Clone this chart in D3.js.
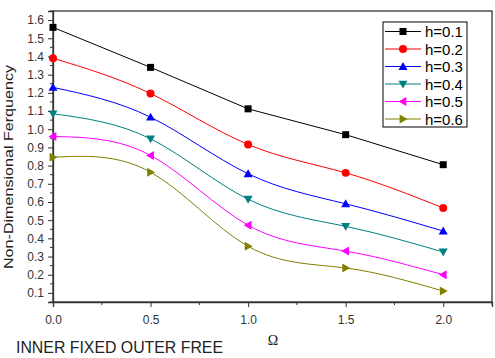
<!DOCTYPE html>
<html>
<head>
<meta charset="utf-8">
<script src="https://cdn.jsdelivr.net/npm/d3@7"></script>
<style>
  body { margin: 0; background: #fff; }
  text { font-family: "Liberation Sans", Arial, sans-serif; }
</style>
</head>
<body>
<svg id="chart" width="495" height="358"></svg>
<script>
// data
const omega = [0.0, 0.5, 1.0, 1.5, 2.0];
const seriesNames = ['h=0.1', 'h=0.2', 'h=0.3', 'h=0.4', 'h=0.5', 'h=0.6'];
const h01 = [1.56, 1.34, 1.112, 0.97, 0.805];
const h02 = [1.39, 1.196, 0.916, 0.76, 0.567];
const h03 = [1.23, 1.066, 0.755, 0.59, 0.44];
const h04 = [1.085, 0.947, 0.615, 0.466, 0.325];
const h05 = [0.96, 0.856, 0.472, 0.33, 0.20];
const h06 = [0.846, 0.764, 0.356, 0.237, 0.11];
const xTicks = [0, 0.5, 1.0, 1.5, 2.0];
const yTicks = [0.1, 0.2, 0.3, 0.4, 0.5, 0.6, 0.7, 0.8, 0.9, 1.0, 1.1, 1.2, 1.3, 1.4, 1.5, 1.6];

const colors = ['#000000', '#ff0000', '#0000ff', '#008080', '#ff00ff', '#808000'];
const symbols = ['square', 'circle', 'up', 'down', 'left', 'right'];
const allValues = [h01, h02, h03, h04, h05, h06];

const series = seriesNames.map((name, i) => ({
  name,
  color: colors[i],
  symbol: symbols[i],
  values: omega.map((x, j) => ({ x, y: allValues[i][j] })),
}));

const svg = d3.select('#chart');
const margin = { left: 53, right: 3, top: 11, bottom: 56 };
const width = 495 - margin.left - margin.right;
const height = 358 - margin.top - margin.bottom;

const x = d3.scaleLinear().domain([0, 2.25]).range([0, width]);
const y = d3.scaleLinear().domain([0.05, 1.65]).range([height, 0]);

const g = svg.append('g').attr('transform', `translate(${margin.left},${margin.top})`);

// frame
g.append('rect')
  .attr('width', width)
  .attr('height', height)
  .attr('fill', 'none')
  .attr('stroke', '#333')
  .attr('stroke-width', 1.3);

// minor ticks
const xMinor = d3.range(0, 2.26, 0.25).filter((v) => Math.abs(v * 2 - Math.round(v * 2)) > 0.01);
g.append('g')
  .selectAll('line')
  .data(xMinor)
  .join('line')
  .attr('x1', (d) => x(d))
  .attr('x2', (d) => x(d))
  .attr('y1', height)
  .attr('y2', height + 3)
  .attr('stroke', '#333');

const yMinor = d3.range(0.05, 1.66, 0.1);
g.append('g')
  .selectAll('line')
  .data(yMinor)
  .join('line')
  .attr('x1', 0)
  .attr('x2', -3)
  .attr('y1', (d) => y(d))
  .attr('y2', (d) => y(d))
  .attr('stroke', '#333');

// axes
const xAxis = g.append('g')
  .attr('transform', `translate(0,${height})`)
  .call(d3.axisBottom(x).tickValues(xTicks).tickFormat(d3.format('.1f')).tickSize(5).tickPadding(8));
const yAxis = g.append('g')
  .call(d3.axisLeft(y).tickValues(yTicks).tickFormat(d3.format('.1f')).tickSize(5).tickPadding(4));

[xAxis, yAxis].forEach((a) => {
  a.select('.domain').attr('stroke', '#333').attr('stroke-width', 1.3);
  a.selectAll('.tick line').attr('stroke', '#333');
  a.selectAll('.tick text')
    .attr('fill', '#333')
    .style('font-size', '12px')
    .style('font-family', '"Liberation Sans", Arial, sans-serif');
});

// lines
const smooth = d3.line().x((d) => x(d.x)).y((d) => y(d.y)).curve(d3.curveNatural);
const straight = d3.line().x((d) => x(d.x)).y((d) => y(d.y));

g.selectAll('.series-line')
  .data(series)
  .join('path')
  .classed('series-line', true)
  .attr('d', (d, i) => (i === 0 ? straight(d.values) : smooth(d.values)))
  .attr('fill', 'none')
  .attr('stroke', (d) => d.color)
  .attr('stroke-width', 1);

// markers
function markerPath(type) {
  const s = 4.5;
  switch (type) {
    case 'square': return `M${-3.5},${-3.5}h7v7h-7z`;
    case 'circle': return d3.symbol(d3.symbolCircle, 50)();
    case 'up': return `M0,${-s}L${s},${s * 0.75}L${-s},${s * 0.75}Z`;
    case 'down': return `M0,${s}L${s},${-s * 0.75}L${-s},${-s * 0.75}Z`;
    case 'left': return `M${-s},0L${s * 0.75},${-s}L${s * 0.75},${s}Z`;
    case 'right': return `M${s},0L${-s * 0.75},${-s}L${-s * 0.75},${s}Z`;
  }
}

series.forEach((s) => {
  g.append('g')
    .selectAll('path')
    .data(s.values)
    .join('path')
    .attr('transform', (d) => `translate(${x(d.x)},${y(d.y)})`)
    .attr('d', markerPath(s.symbol))
    .attr('fill', s.color);
});

// legend
const legend = svg.append('g').attr('transform', 'translate(383,22)');
legend.append('rect')
  .attr('width', 84)
  .attr('height', 105)
  .attr('fill', '#fff')
  .attr('stroke', '#000')
  .attr('stroke-width', 1);

legend.selectAll('.legend-item')
  .data(series)
  .join('g')
  .classed('legend-item', true)
  .attr('transform', (d, i) => `translate(0, ${9.5 + 17.5 * i})`)
  .call((it) =>
    it.append('line')
      .attr('x1', 2)
      .attr('x2', 38)
      .attr('stroke', (d) => d.color)
      .attr('stroke-width', 1.2))
  .call((it) =>
    it.append('path')
      .attr('transform', 'translate(20,0)')
      .attr('d', (d) => markerPath(d.symbol))
      .attr('fill', (d) => d.color))
  .call((it) =>
    it.append('text')
      .attr('x', 42)
      .attr('y', 5.5)
      .style('font-size', '15px')
      .attr('fill', '#000')
      .text((d) => d.name));

// axis titles
svg.append('text')
  .attr('transform', 'translate(13,167) rotate(-90)')
  .attr('text-anchor', 'middle')
  .style('font-size', '13px')
  .attr('textLength', 204)
  .attr('lengthAdjust', 'spacingAndGlyphs')
  .attr('fill', '#222')
  .text('Non-Dimensional Ferquency');

svg.append('text')
  .attr('x', 273)
  .attr('y', 345)
  .attr('text-anchor', 'middle')
  .style('font-family', '"Liberation Serif", "Times New Roman", serif')
  .style('font-size', '14px')
  .attr('fill', '#222')
  .text('Ω');

svg.append('text')
  .attr('x', 16)
  .attr('y', 353)
  .style('font-size', '16px')
  .attr('textLength', 207)
  .attr('lengthAdjust', 'spacingAndGlyphs')
  .attr('fill', '#222')
  .text('INNER FIXED OUTER FREE');
</script>
</body>
</html>
